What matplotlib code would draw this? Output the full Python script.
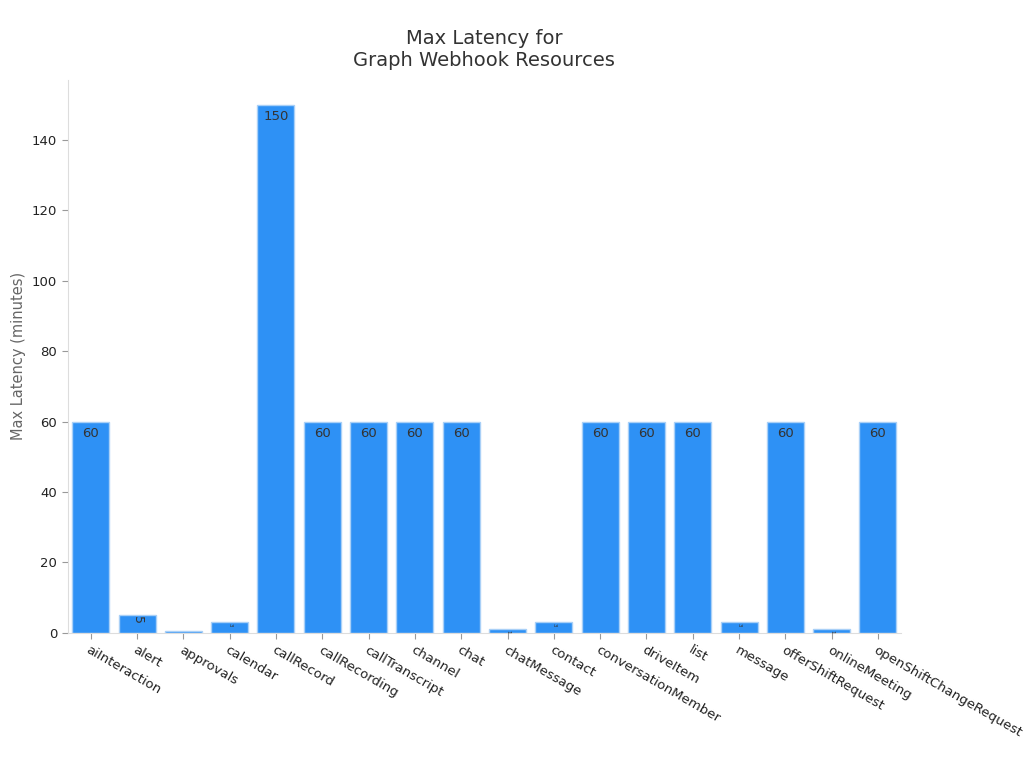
import matplotlib.pyplot as plt
import numpy as np

resources = ['aiInteraction', 'alert', 'approvals', 'calendar', 'callRecord',
             'callRecording', 'callTranscript', 'channel', 'chat', 'chatMessage',
             'contact', 'conversationMember', 'driveItem', 'list', 'message',
             'offerShiftRequest', 'onlineMeeting', 'openShiftChangeRequest']
latency = [60, 5, 0.5, 3, 150, 60, 60, 60, 60, 1, 3, 60, 60, 60, 3, 60, 1, 60]

plt.rcParams['font.family'] = ['DejaVu Sans']
fig = plt.figure(figsize=(10.24, 7.68), dpi=100)
ax = fig.add_axes([0.066, 0.176, 0.814, 0.72])

x = np.arange(len(resources))
bars = ax.bar(x, latency, width=0.8, color='#2E91F5', edgecolor='#A9D0F7', linewidth=1)

for b, v in zip(bars, latency):
    cx = b.get_x() + b.get_width() / 2
    if v >= 10:
        ax.text(cx, v - 1.5, f'{v:g}', ha='center', va='top', fontsize=9.5, color='#333333')
    elif v >= 1:
        ax.text(cx, v - 0.3, f'{v:g}', ha='center', va='top', fontsize=9 if v >= 5 else 4,
                rotation=-90, color='#333333')

ax.set_xlim(-0.5, len(resources) - 0.5)
ax.set_ylim(0, 157)
ax.set_yticks(range(0, 141, 20))
ax.set_xticks(x)
ax.set_xticklabels(resources, rotation=-30, ha='left', rotation_mode='anchor', fontsize=9.5, color='#222222')
ax.tick_params(axis='both', colors='#999999', labelcolor='#222222', length=4)
ax.tick_params(axis='y', labelsize=9.5)
for s in ['top', 'right']:
    ax.spines[s].set_visible(False)
for s in ['left', 'bottom']:
    ax.spines[s].set_color('#dddddd')

ax.set_xlabel('Resource', fontsize=10.5, color='#666666', labelpad=30)
ax.set_ylabel('Max Latency (minutes)', fontsize=10.5, color='#666666')
ax.set_title('Max Latency for\nGraph Webhook Resources', fontsize=14, color='#333333', pad=10)

fig.savefig('out.png')
